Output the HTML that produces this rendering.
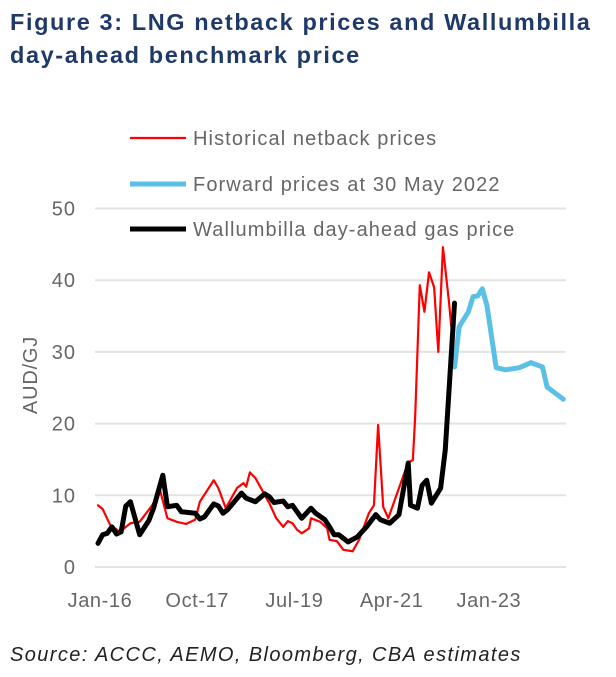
<!DOCTYPE html>
<html><head><meta charset="utf-8"><style>
body{margin:0;background:#fff;width:616px;height:677px;overflow:hidden;font-family:"Liberation Sans",sans-serif}
#title{position:absolute;left:10px;top:6px;font-weight:bold;font-size:23.5px;letter-spacing:1.6px;line-height:33px;color:#1f3a68;margin:0;white-space:nowrap}
#src{position:absolute;left:10px;top:644px;font-style:italic;font-size:20px;letter-spacing:1.4px;color:#222;white-space:nowrap}
svg{position:absolute;left:0;top:0}
</style></head><body>
<h1 id="title">Figure 3: LNG netback prices and Wallumbilla<br>day-ahead benchmark price</h1>
<div id="src">Source: ACCC, AEMO, Bloomberg, CBA estimates</div>
<svg id="chart" width="616" height="677"></svg>
<script>
const yTicks=[0,10,20,30,40,50];
const xTickMonths=[0,21,42,63,84];
const xTickLabels=["Jan-16","Oct-17","Jul-19","Apr-21","Jan-23"];
const redMonths=[0,1,2.6,4.7,7,9,11.7,13.4,15,17,19,21,22,25,26,27.6,30,31.4,32,32.8,34,37,38.5,40,41,42,43,44,45.6,46,48,49.5,50,51.6,53,55,56.4,58.5,59.6,60.5,61.6,62.7,65,67,68,68.5,69.5,70.5,71.5,72.6,73.5,74.5,75.8,76.3];
const redValues=[8.6,8.1,5.9,4.9,6.1,6.3,8.6,10.7,6.8,6.3,6,6.6,9.1,12.1,11,8.2,11,11.7,11.2,13.2,12.4,8.9,6.8,5.6,6.4,6.1,5.2,4.7,5.4,6.8,6.3,5.4,3.8,3.6,2.4,2.2,3.8,7.5,8.6,19.8,8.4,6.8,11,14.6,14.9,20.9,39.3,35.6,41.1,39,30,44.6,37,33.5];
const blackMonths=[0,1,2,3,4,5,6,7,9,11,12,14,15,17,18,21,22,23,25,26,27,28,31,32,34,36,37,38,40,41,42,44,46,47,49,50,51,52,54,56,58,60,61,63,65,67,67.5,69,70,71,72,74,75,77];
const blackValues=[3.3,4.5,4.7,5.6,4.6,4.9,8.5,9.1,4.5,6.5,8.2,12.8,8.4,8.6,7.7,7.5,6.7,7,8.8,8.5,7.5,8,10.3,9.6,9.1,10.2,9.8,9,9.2,8.4,8.6,6.8,8.2,7.5,6.6,5.6,4.5,4.5,3.5,4.2,5.6,7.3,6.6,6.1,7.3,14.5,8.6,8.2,11.4,12.1,8.9,11,16.3,36.8];
const blueMonths=[77,78,80,81,82,83,84,86,88,91,93.5,96,97,100.5];
const blueValues=[27.9,33.5,35.6,37.7,37.8,38.8,36.5,27.8,27.5,27.8,28.5,27.9,25.1,23.4];
const legendLabels=["Historical netback prices","Forward prices at 30 May 2022","Wallumbilla day-ahead gas price"];

const NS="http://www.w3.org/2000/svg",svg=document.getElementById('chart');
const X=m=>98+m*4.63, Y=v=>567-v*7.17;
function mk(t,a,p){const e=document.createElementNS(NS,t);for(const k in a)e.setAttribute(k,a[k]);(p||svg).appendChild(e);return e;}
yTicks.forEach(v=>{
  const g=mk('line',{x1:95,x2:566,y1:Y(v),y2:Y(v),stroke:'#e3e3e3','stroke-width':2});
  
  
  const t=mk('text',{x:76,y:Y(v)+7,'text-anchor':'end','font-size':20,'letter-spacing':1,fill:'#666','font-family':'Liberation Sans'});
  t.textContent=v;
  
  
});
xTickMonths.forEach((m,i)=>{
  const t=mk('text',{x:X(m)+2,y:607,'text-anchor':'middle','font-size':20,'letter-spacing':0.6,fill:'#666','font-family':'Liberation Sans'});
  t.textContent=xTickLabels[i];
  
  
});
const yt=mk('text',{x:0,y:0,transform:'translate(37,375) rotate(-90)','text-anchor':'middle','font-size':20,'letter-spacing':0.8,fill:'#666','font-family':'Liberation Sans'});
yt.textContent='AUD/GJ';


function series(ms,vs,col,w,name){
  const p=mk('polyline',{points:ms.map((m,i)=>X(m)+','+Y(vs[i])).join(' '),fill:'none',stroke:col,'stroke-width':w,'stroke-linejoin':'round','stroke-linecap':'round'});
  
  
}
series(redMonths,redValues,'#ff0000',2.2,'historical-netback-line');
series(blueMonths,blueValues,'#5bc0e6',5,'forward-prices-line');
series(blackMonths,blackValues,'#000',5,'wallumbilla-line');
const lc=['#ff0000','#5bc0e6','#000'],lw=[2.2,5,5],ly=[138,184,229];
legendLabels.forEach((l,i)=>{
  const g=mk('g',{});
  
  
  mk('line',{x1:130,x2:186,y1:ly[i],y2:ly[i],stroke:lc[i],'stroke-width':lw[i]},g);
  const t=mk('text',{x:193,y:ly[i]+7,'font-size':20,'letter-spacing':1.1,fill:'#666','font-family':'Liberation Sans'},g);
  t.textContent=l;
});
</script>
</body></html>
